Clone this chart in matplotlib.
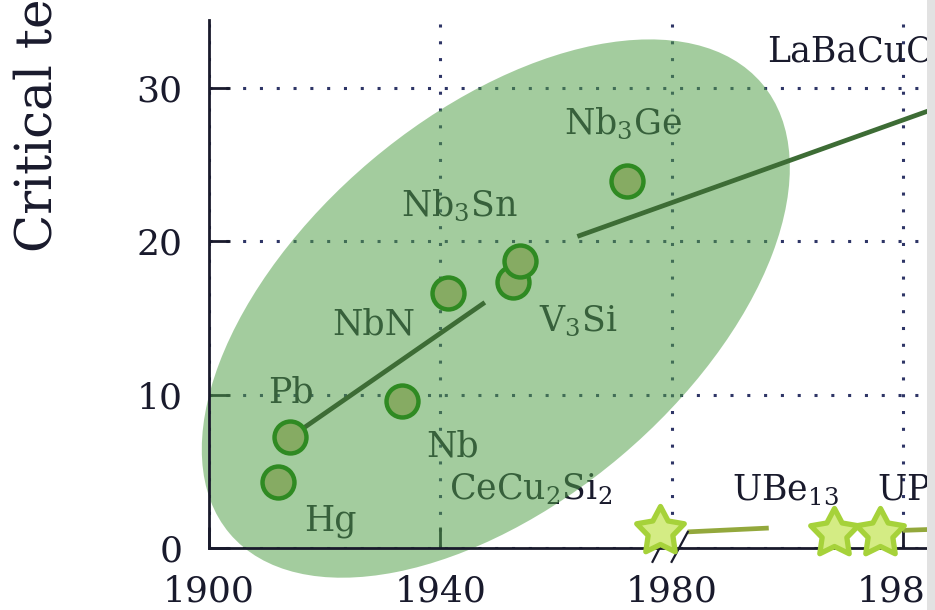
import matplotlib.pyplot as plt
import matplotlib.transforms as mtransforms
import numpy as np
from matplotlib.markers import MarkerStyle
from matplotlib.patches import Ellipse, Rectangle
from matplotlib.path import Path

plt.rcParams['font.family'] = 'DejaVu Serif'
plt.rcParams['mathtext.fontset'] = 'dejavuserif'

INK = "#191a2c"
GRID = "#2e3566"
BLOB = "#52a049"
CIRCLE_FACE = "#86ab63"
CIRCLE_EDGE = "#2f8a22"
TREND = "#3d6c35"
STAR_FACE = "#d4ec84"
STAR_EDGE = "#a6d23a"
HF_TREND = "#93a83c"

# conventional superconductors: discovery year and Tc (K)
bcs_names = ["Hg", "Pb", "Nb", "NbN", "V$_3$Si", "Nb$_3$Sn", "Nb$_3$Ge"]
bcs_year = [1911.9, 1914.0, 1933.3, 1941.3, 1952.5, 1953.7, 1972.2]
bcs_tc = [4.3, 7.2, 9.6, 16.6, 17.3, 18.7, 23.9]

# heavy fermion superconductors
hf_names = ["CeCu$_2$Si$_2$", "UBe$_{13}$", "UPt$_3$"]
hf_year = [1978.0, 1983.5, 1984.5]
hf_tc = [1.1, 1.0, 1.0]

# trend lines
bcs_trend1_year = [1914.0, 1947.7]
bcs_trend1_tc = [7.2, 16.0]
bcs_trend2_year = [1963.7, 1986.5]
bcs_trend2_tc = [20.3, 29.5]
hf_trend1_year = [1980.35, 1982.1]
hf_trend1_tc = [1.05, 1.3]
hf_trend2_year = [1985.0, 1986.5]
hf_trend2_tc = [1.15, 1.3]

cuprate_label = "LaBaCuO"
cuprate_label_pos = (1982.06, 31.7)

xticks = [1900, 1940, 1980, 1985]
yticks = [0, 10, 20, 30]

# label offsets from each marker, in points (left edge, baseline)
bcs_label_offsets = [(19, -35), (-16, 25), (18, -40), (-83, -30),
                     (19, -35), (-85, 32), (-45, 34)]
hf_label_offsets = [(-152, 23), (-73, 23), (-2, 23)]


# axis is stretched after the 1980 break
def fwd(x):
    x = np.asarray(x, dtype=float)
    return np.where(x <= 1980, x, 1980 + 8.0 * (x - 1980))


def inv(u):
    u = np.asarray(u, dtype=float)
    return np.where(u <= 1980, u, 1980 + (u - 1980) / 8.0)


def star_marker(inner=0.52):
    ang = np.pi / 2 + np.arange(10) * np.pi / 5
    r = np.where(np.arange(10) % 2 == 0, 1.0, inner)
    verts = np.column_stack([r * np.cos(ang), r * np.sin(ang)])
    verts = np.vstack([verts, verts[:1]])
    codes = [Path.MOVETO] + [Path.LINETO] * 9 + [Path.CLOSEPOLY]
    return MarkerStyle(Path(verts, codes), joinstyle='round')


fig = plt.figure(figsize=(9.35, 6.1), dpi=100)
ax = fig.add_axes([209 / 935, 62 / 610, 763.3 / 935, 528 / 610])
ax.set_xscale('function', functions=(fwd, inv))
ax.set_xlim(1900, 1986.5)
ax.set_ylim(0, 34.4)

for side in ("top", "right"):
    ax.spines[side].set_visible(False)
for side in ("left", "bottom"):
    ax.spines[side].set_color(INK)
    ax.spines[side].set_linewidth(2.0)
    ax.spines[side].set_zorder(6)

ax.set_xticks(xticks)
ax.set_xticklabels([str(t) for t in xticks])
ax.set_yticks(yticks)
ax.xaxis.set_minor_locator(plt.NullLocator())
ax.tick_params(direction='in', length=15, width=2.0, color=INK,
               labelcolor=INK, labelsize=26)
ax.tick_params(axis='y', pad=19)
ax.tick_params(axis='x', pad=19)
ax.set_axisbelow(True)
ax.grid(True, linestyle=(0, (1, 4.5)), linewidth=2.2, color=GRID)

# labels sit under the translucent highlight
for name, x, y, off in zip(bcs_names, bcs_year, bcs_tc, bcs_label_offsets):
    ax.annotate(name, (x, y), xytext=off, textcoords='offset points',
                ha='left', va='baseline', fontsize=25, color=INK, zorder=2,
                annotation_clip=False)
for name, x, y, off in zip(hf_names, hf_year, hf_tc, hf_label_offsets):
    ax.annotate(name, (x, y), xytext=off, textcoords='offset points',
                ha='left', va='baseline', fontsize=25, color=INK, zorder=2,
                annotation_clip=False)
ax.text(*cuprate_label_pos, cuprate_label, ha='left', va='baseline',
        fontsize=25, color=INK, zorder=2)

# highlight around the conventional superconductors, sized in inches
blob_center = (1949.6, 15.6)
blob_trans = fig.dpi_scale_trans + mtransforms.ScaledTranslation(
    *blob_center, ax.transData)
ax.add_patch(Ellipse((0, 0), 6.97, 3.87, angle=40.2, transform=blob_trans,
                     facecolor=BLOB, edgecolor='none', alpha=0.53,
                     zorder=2.5, clip_on=False))

ax.plot(bcs_trend1_year, bcs_trend1_tc, color=TREND, lw=3.4,
        solid_capstyle='butt', zorder=4)
ax.plot(bcs_trend2_year, bcs_trend2_tc, color=TREND, lw=3.4,
        solid_capstyle='butt', zorder=4)
ax.plot(hf_trend1_year, hf_trend1_tc, color=HF_TREND, lw=3.4,
        solid_capstyle='butt', zorder=4, clip_on=False)
ax.plot(hf_trend2_year, hf_trend2_tc, color=HF_TREND, lw=3.4,
        solid_capstyle='butt', zorder=4)

# axis break marks
ax.plot([1976.7, 1978.6], [-0.9, 0.5], color=INK, lw=1.6, zorder=4,
        clip_on=False)
ax.plot([1980.0, 1980.35], [-0.9, 1.05], color=INK, lw=1.6, zorder=4,
        clip_on=False)

ax.plot(bcs_year, bcs_tc, linestyle='none', marker='o', markersize=23,
        markerfacecolor=CIRCLE_FACE, markeredgecolor=CIRCLE_EDGE,
        markeredgewidth=3.2, zorder=5, clip_on=False)
ax.plot(hf_year, hf_tc, linestyle='none', marker=star_marker(),
        markersize=36, markerfacecolor=STAR_FACE, markeredgecolor=STAR_EDGE,
        markeredgewidth=3.8, zorder=7, clip_on=False)

fig.text(14 / 935, (610 - 252) / 610, "Critical temperature (K)",
         rotation=90, ha='left', va='bottom', fontsize=36, color=INK)

# soft grey edge along the right border
fig.add_artist(Rectangle((927 / 935, 0), 8 / 935, 1, transform=fig.transFigure,
                         facecolor="#e2e2e2", edgecolor='none', zorder=10))

fig.savefig("out.png", dpi=100)
